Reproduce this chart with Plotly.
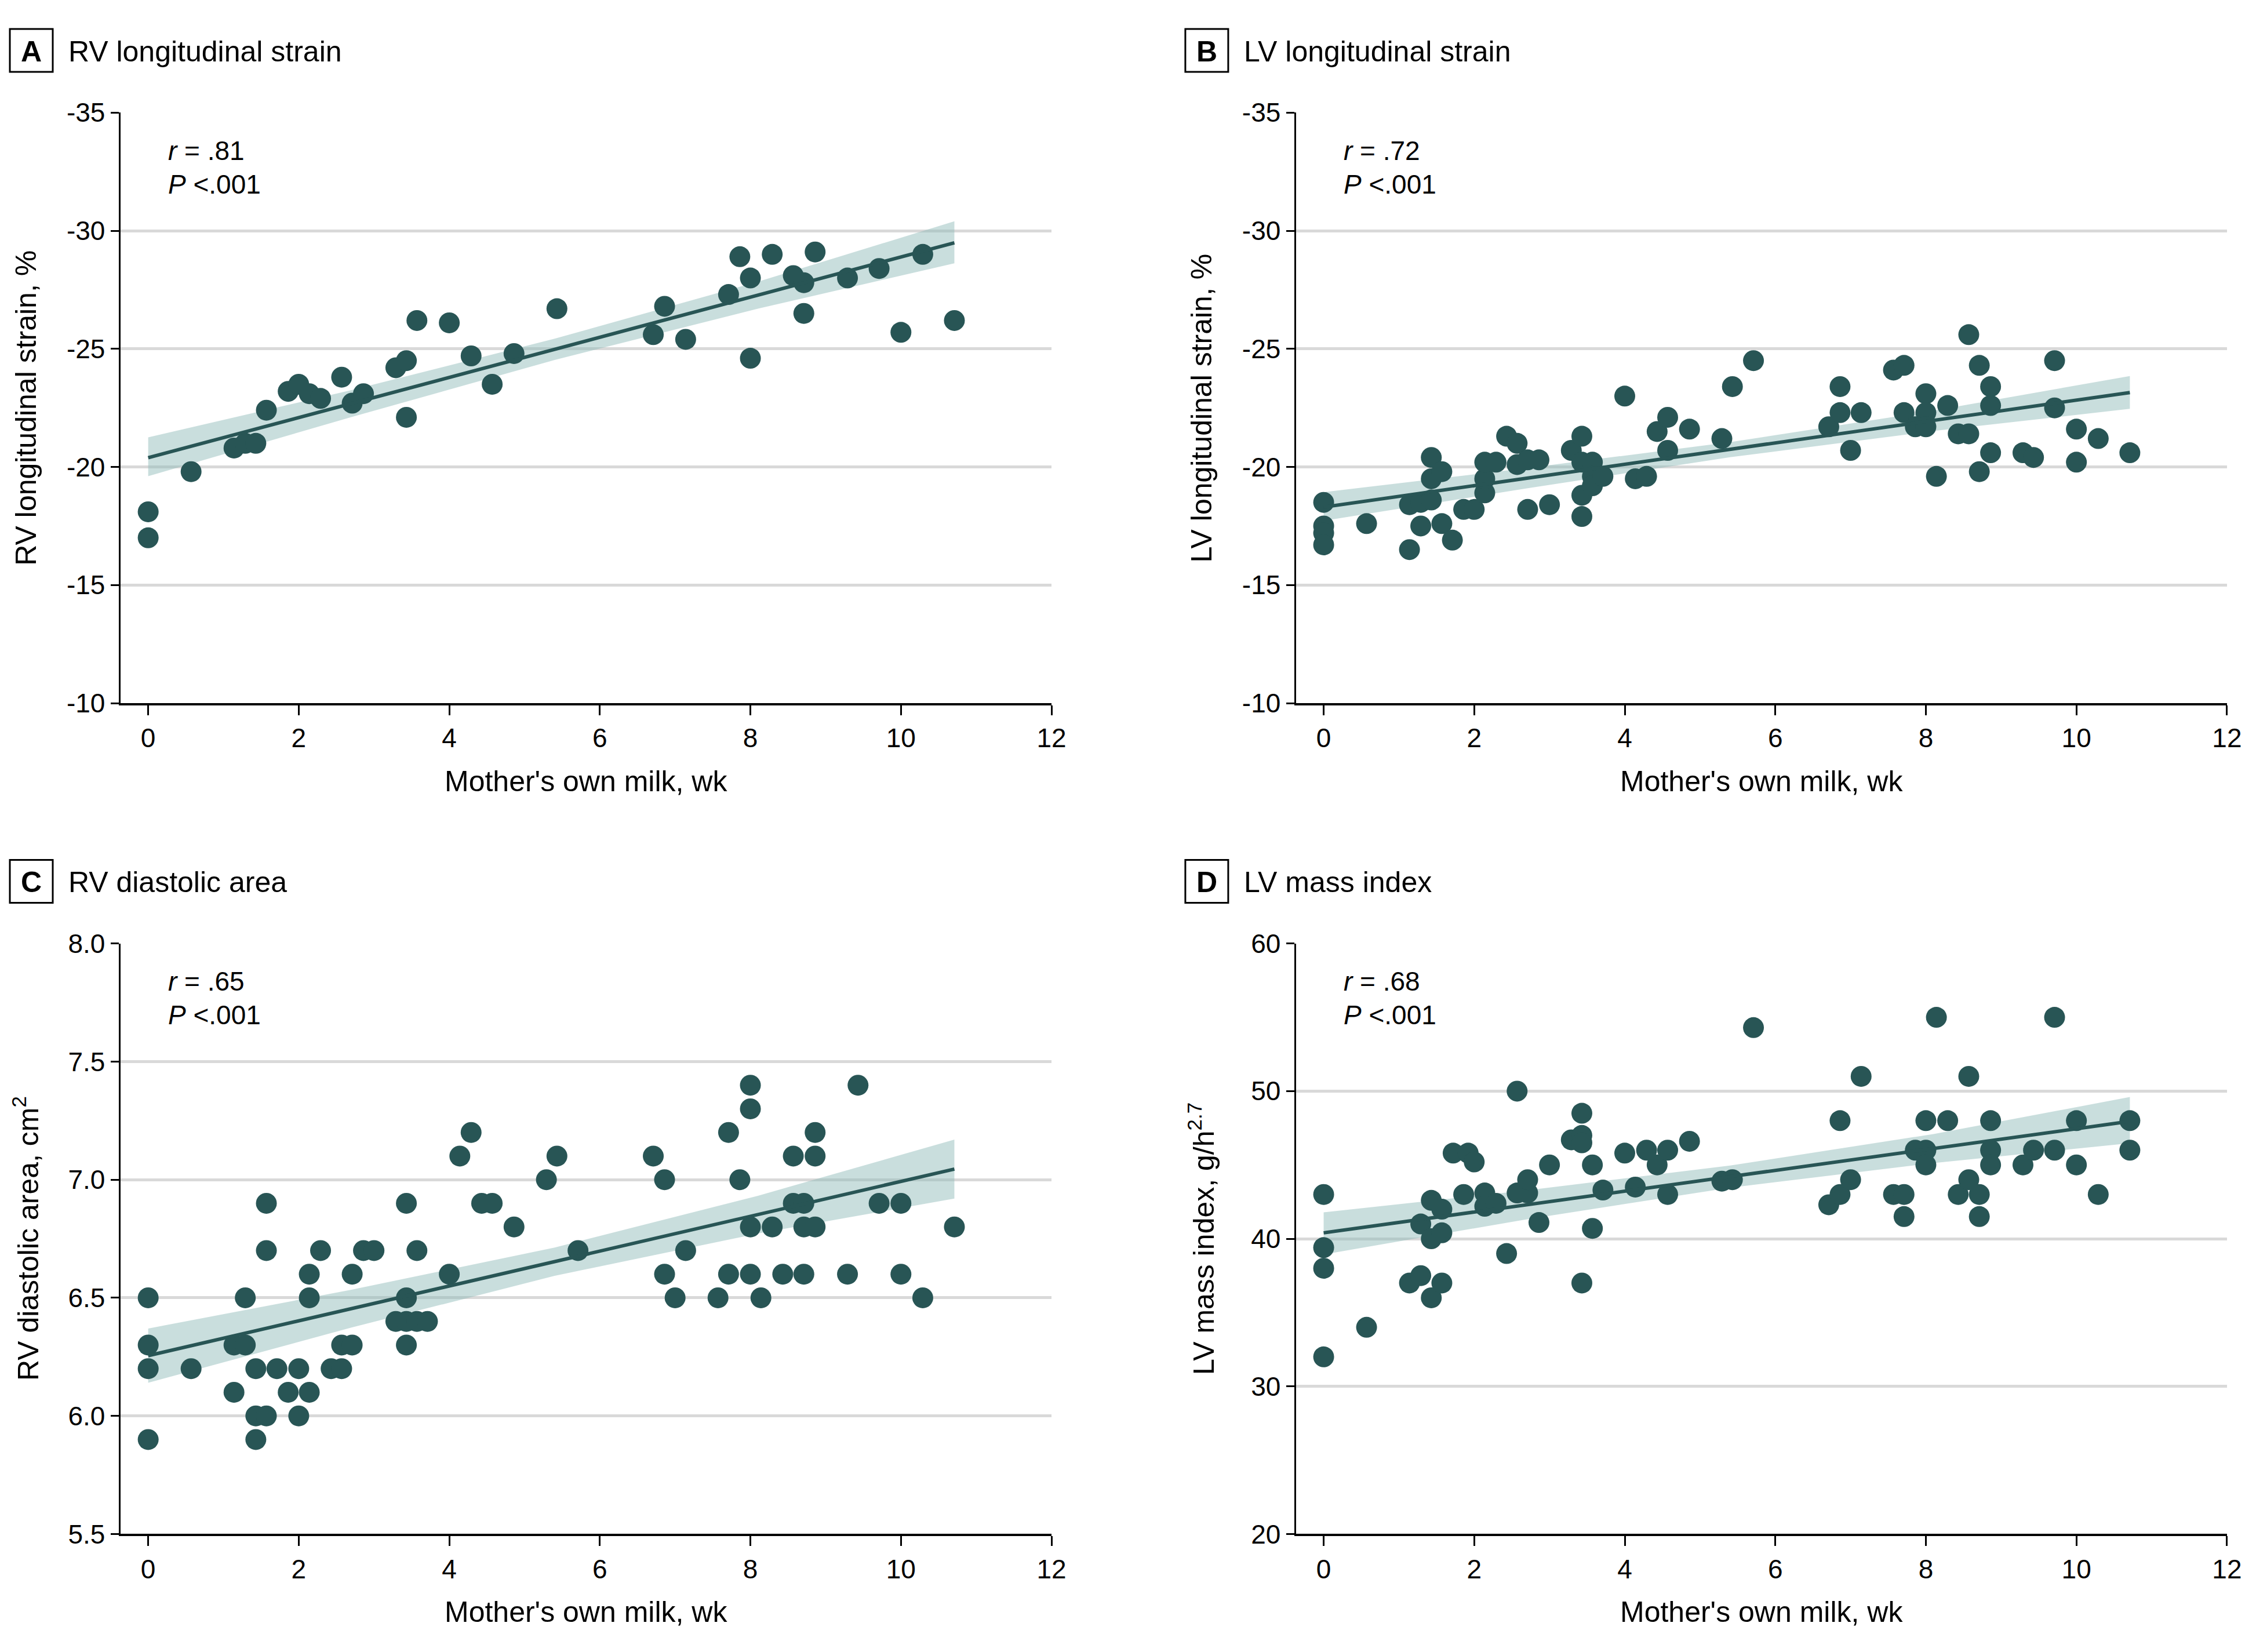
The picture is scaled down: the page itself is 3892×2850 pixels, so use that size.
import plotly.graph_objects as go

# ---------------- data ----------------
x_ticks = [0, 2, 4, 6, 8, 10, 12]
x_ticktext = ["0", "2", "4", "6", "8", "10", "12"]

strain_ticks = [-35, -30, -25, -20, -15, -10]
strain_ticktext = ["-35", "-30", "-25", "-20", "-15", "-10"]
area_ticks = [5.5, 6.0, 6.5, 7.0, 7.5, 8.0]
area_ticktext = ["5.5", "6.0", "6.5", "7.0", "7.5", "8.0"]
mass_ticks = [20, 30, 40, 50, 60]
mass_ticktext = ["20", "30", "40", "50", "60"]

# x positions at which the fitted line and its 95% CI band were read
fit_x = [0, 2.7, 5.4, 8.1, 10.71]

# Panel A: RV longitudinal strain
a_x = [0, 0, 0.57, 1.14, 1.29, 1.43, 1.57, 1.86, 2.0, 2.14,
       2.29, 2.57, 2.71, 2.86, 3.29, 3.43, 3.43, 3.57, 4.0, 4.29,
       4.57, 4.86, 5.43, 6.71, 6.86, 7.14, 7.71, 7.86, 8.0, 8.0,
       8.29, 8.57, 8.71, 8.71, 8.86, 9.29, 9.71, 10.0, 10.29, 10.71]
a_y = [-18.1, -17.0, -19.8, -20.8, -21.0, -21.0, -22.4, -23.2, -23.5, -23.1,
       -22.9, -23.8, -22.7, -23.1, -24.2, -24.5, -22.1, -26.2, -26.1, -24.7,
       -23.5, -24.8, -26.7, -25.6, -26.8, -25.4, -27.3, -28.9, -28.0, -24.6,
       -29.0, -28.1, -27.8, -26.5, -29.1, -28.0, -28.4, -25.7, -29.0, -26.2]
a_fit = [-20.39, -22.68, -24.98, -27.27, -29.49]
a_ci_hi = [-21.25, -23.25, -25.43, -27.84, -30.40]
a_ci_lo = [-19.61, -22.11, -24.53, -26.70, -28.62]

# Panel B: LV longitudinal strain
b_x = [0, 0, 0, 0, 0.57, 1.14, 1.14, 1.29, 1.29, 1.43,
       1.43, 1.43, 1.57, 1.57, 1.71, 1.86, 2.0, 2.14, 2.14, 2.14,
       2.29, 2.43, 2.57, 2.57, 2.71, 2.71, 2.86, 3.0, 3.29, 3.43,
       3.43, 3.43, 3.43, 3.57, 3.57, 3.57, 3.71, 4.0, 4.14, 4.29,
       4.43, 4.57, 4.57, 4.86, 5.29, 5.43, 5.71, 6.71, 6.86, 6.86,
       7.0, 7.14, 7.57, 7.71, 7.71, 7.86, 8.0, 8.0, 8.0, 8.14,
       8.29, 8.43, 8.57, 8.57, 8.71, 8.71, 8.86, 8.86, 8.86, 9.29,
       9.43, 9.71, 9.71, 10.0, 10.0, 10.29, 10.71]
b_y = [-18.5, -17.5, -17.2, -16.7, -17.6, -16.5, -18.4, -18.5, -17.5, -18.6,
       -19.5, -20.4, -19.8, -17.6, -16.9, -18.2, -18.2, -18.9, -19.5, -20.2,
       -20.2, -21.3, -21.0, -20.1, -20.3, -18.2, -20.3, -18.4, -20.7, -21.3,
       -20.2, -18.8, -17.9, -20.2, -19.6, -19.2, -19.6, -23.0, -19.5, -19.6,
       -21.5, -22.1, -20.7, -21.6, -21.2, -23.4, -24.5, -21.7, -22.3, -23.4,
       -20.7, -22.3, -24.1, -24.3, -22.3, -21.7, -23.1, -22.3, -21.7, -19.6,
       -22.6, -21.4, -21.4, -25.6, -24.3, -19.8, -23.4, -22.6, -20.6, -20.6,
       -20.4, -24.5, -22.5, -21.6, -20.2, -21.2, -20.6]
b_fit = [-18.30, -19.52, -20.73, -21.95, -23.15]
b_ci_hi = [-18.93, -19.95, -21.05, -22.38, -23.85]
b_ci_lo = [-17.72, -19.09, -20.41, -21.52, -22.46]

# Panel C: RV diastolic area
c_x = [0, 0, 0, 0, 0.57, 1.14, 1.14, 1.29, 1.29, 1.43,
       1.43, 1.43, 1.57, 1.57, 1.57, 1.71, 1.86, 2.0, 2.0, 2.14,
       2.14, 2.14, 2.29, 2.43, 2.57, 2.57, 2.71, 2.71, 2.86, 3.0,
       3.29, 3.43, 3.43, 3.43, 3.43, 3.57, 3.57, 3.71, 4.0, 4.14,
       4.29, 4.43, 4.57, 4.86, 5.29, 5.43, 5.71, 6.71, 6.86, 6.86,
       7.0, 7.14, 7.57, 7.71, 7.71, 7.86, 8.0, 8.0, 8.0, 8.0,
       8.14, 8.29, 8.43, 8.57, 8.57, 8.71, 8.71, 8.71, 8.86, 8.86,
       8.86, 9.29, 9.43, 9.71, 10.0, 10.0, 10.29, 10.71]
c_y = [6.5, 6.3, 6.2, 5.9, 6.2, 6.1, 6.3, 6.3, 6.5, 6.2,
       6.0, 5.9, 6.0, 6.7, 6.9, 6.2, 6.1, 6.2, 6.0, 6.1,
       6.5, 6.6, 6.7, 6.2, 6.2, 6.3, 6.3, 6.6, 6.7, 6.7,
       6.4, 6.4, 6.5, 6.3, 6.9, 6.7, 6.4, 6.4, 6.6, 7.1,
       7.2, 6.9, 6.9, 6.8, 7.0, 7.1, 6.7, 7.1, 7.0, 6.6,
       6.5, 6.7, 6.5, 6.6, 7.2, 7.0, 7.4, 7.3, 6.8, 6.6,
       6.5, 6.8, 6.6, 7.1, 6.9, 6.9, 6.8, 6.6, 7.2, 7.1,
       6.8, 6.6, 7.4, 6.9, 6.9, 6.6, 6.5, 6.8]
c_fit = [6.255, 6.454, 6.653, 6.852, 7.045]
c_ci_lo = [6.14, 6.374, 6.593, 6.772, 6.92]
c_ci_hi = [6.37, 6.534, 6.713, 6.932, 7.17]

# Panel D: LV mass index
d_x = [0, 0, 0, 0, 0.57, 1.14, 1.29, 1.29, 1.43, 1.43,
       1.43, 1.57, 1.57, 1.57, 1.72, 1.86, 1.92, 2.0, 2.14, 2.14,
       2.29, 2.43, 2.57, 2.57, 2.71, 2.71, 2.86, 3.0, 3.29, 3.43,
       3.43, 3.43, 3.43, 3.57, 3.57, 3.71, 4.0, 4.14, 4.29, 4.43,
       4.57, 4.57, 4.86, 5.29, 5.43, 5.71, 6.71, 6.86, 6.86, 7.0,
       7.14, 7.57, 7.71, 7.71, 7.86, 8.0, 8.0, 8.0, 8.14, 8.29,
       8.43, 8.57, 8.57, 8.71, 8.71, 8.86, 8.86, 8.86, 9.29, 9.43,
       9.71, 9.71, 10.0, 10.0, 10.29, 10.71, 10.71]
d_y = [43.0, 39.4, 38.0, 32.0, 34.0, 37.0, 37.5, 41.0, 36.0, 40.0,
       42.6, 42.0, 40.4, 37.0, 45.8, 43.0, 45.8, 45.2, 43.1, 42.2,
       42.4, 39.0, 50.0, 43.1, 43.1, 44.0, 41.1, 45.0, 46.7, 48.5,
       47.0, 46.5, 37.0, 45.0, 40.7, 43.3, 45.8, 43.5, 46.0, 45.0,
       46.0, 43.0, 46.6, 43.9, 44.0, 54.3, 42.3, 43.0, 48.0, 44.0,
       51.0, 43.0, 41.5, 43.0, 46.0, 48.0, 46.0, 45.0, 55.0, 48.0,
       43.0, 44.0, 51.0, 43.0, 41.5, 48.0, 46.0, 45.0, 45.0, 46.0,
       55.0, 46.0, 48.0, 45.0, 43.0, 48.0, 46.0]
d_fit = [40.40, 42.30, 44.21, 46.11, 47.95]
d_ci_lo = [38.94, 41.32, 43.46, 45.13, 46.47]
d_ci_hi = [41.79, 43.28, 44.96, 47.09, 49.60]

# ---------------- styling ----------------
W, H = 3892, 2850          # browser window
OFF = 8                    # default page (body) margin around the figure
FW, FH = W - 2 * OFF, H - 2 * OFF
FONT = "Liberation Sans, Arial, sans-serif"
MARK = "#285555"
BAND = "rgba(140,185,182,0.47)"
GRID = "#d9d9d9"


def px_x(p):
    """window pixel -> paper fraction"""
    return (p - OFF) / FW


def px_y(p):
    return 1 - (p - OFF) / FH


# panel offsets (px) relative to panel A
DX, DY = 2027.9, 1433.4
A_LEFT, A_RIGHT, A_TOP, A_BOT = 207.6, 1814.0, 194.3, 1213.0

panels = [
    dict(letter="A", title="RV longitudinal strain", ytitle="RV longitudinal strain, %",
         x=a_x, y=a_y, fit=a_fit, lo=a_ci_lo, hi=a_ci_hi, r=".81",
         rng=[-10, -35], tv=strain_ticks, tt=strain_ticktext, col=0, row=0),
    dict(letter="B", title="LV longitudinal strain", ytitle="LV longitudinal strain, %",
         x=b_x, y=b_y, fit=b_fit, lo=b_ci_lo, hi=b_ci_hi, r=".72",
         rng=[-10, -35], tv=strain_ticks, tt=strain_ticktext, col=1, row=0),
    dict(letter="C", title="RV diastolic area", ytitle="RV diastolic area, cm<sup>2</sup>",
         x=c_x, y=c_y, fit=c_fit, lo=c_ci_lo, hi=c_ci_hi, r=".65",
         rng=[5.5, 8.0], tv=area_ticks, tt=area_ticktext, col=0, row=1),
    dict(letter="D", title="LV mass index", ytitle="LV mass index, g/h<sup>2.7</sup>",
         x=d_x, y=d_y, fit=d_fit, lo=d_ci_lo, hi=d_ci_hi, r=".68",
         rng=[20, 60], tv=mass_ticks, tt=mass_ticktext, col=1, row=1),
]

fig = go.Figure()
layout = dict(
    template="none",
    width=FW, height=FH, autosize=False,
    margin=dict(l=0, r=0, t=0, b=0, pad=0, autoexpand=False),
    paper_bgcolor="white", plot_bgcolor="white",
    showlegend=False,
    font=dict(family=FONT, color="black", size=46),
)
annotations = []
shapes = []

for i, p in enumerate(panels, start=1):
    sfx = "" if i == 1 else str(i)
    xa, ya = "x" + sfx, "y" + sfx
    ox = p["col"] * DX
    oy = p["row"] * DY
    left, right = A_LEFT + ox, A_RIGHT + ox
    top, bot = A_TOP + oy, A_BOT + oy

    fig.add_trace(go.Scatter(
        x=fit_x + fit_x[::-1], y=p["hi"] + p["lo"][::-1],
        fill="toself", fillcolor=BAND, line=dict(width=0),
        mode="lines", hoverinfo="skip", xaxis=xa, yaxis=ya))
    fig.add_trace(go.Scatter(
        x=p["x"], y=p["y"], mode="markers",
        marker=dict(size=36, color=MARK, line=dict(width=0)),
        xaxis=xa, yaxis=ya))
    fig.add_trace(go.Scatter(
        x=fit_x, y=p["fit"], mode="lines", line=dict(color=MARK, width=6),
        xaxis=xa, yaxis=ya))

    layout["xaxis" + sfx] = dict(
        domain=[px_x(left), px_x(right)], anchor=ya, automargin=False,
        range=[-0.37, 12], tickvals=x_ticks, ticktext=x_ticktext,
        ticks="outside", ticklen=17, tickwidth=3, tickcolor="black",
        showline=True, linecolor="black", linewidth=4,
        showgrid=False, zeroline=False,
        tickfont=dict(family=FONT, size=46, color="black"))
    layout["yaxis" + sfx] = dict(
        domain=[px_y(bot), px_y(top)], anchor=xa, automargin=False,
        range=p["rng"], tickvals=p["tv"], ticktext=p["tt"],
        ticks="outside", ticklen=14, tickwidth=3, tickcolor="black",
        showline=True, linecolor="black", linewidth=3,
        showgrid=True, gridcolor=GRID, gridwidth=5, zeroline=False,
        tickfont=dict(family=FONT, size=46, color="black"))

    # panel letter box
    bx0, bx1 = 17 + ox, 91 + ox
    by0, by1 = 50 + oy, 124 + oy
    shapes.append(dict(type="rect", xref="paper", yref="paper",
                       x0=px_x(bx0), x1=px_x(bx1), y0=px_y(by1), y1=px_y(by0),
                       line=dict(color="black", width=3), fillcolor="white"))
    annotations.append(dict(text=p["letter"], xref="paper", yref="paper",
                            x=px_x((bx0 + bx1) / 2), y=px_y((by0 + by1) / 2 + 2),
                            xanchor="center", yanchor="middle", showarrow=False,
                            font=dict(family=FONT, size=50, color="black", weight="bold")))
    annotations.append(dict(text=p["title"], xref="paper", yref="paper",
                            x=px_x(116 + ox), y=px_y(89 + oy),
                            xanchor="left", yanchor="middle", showarrow=False,
                            font=dict(family=FONT, size=50, color="black")))
    # statistics
    annotations.append(dict(text="<i>r</i> = %s" % p["r"], xref="paper", yref="paper",
                            x=px_x(288 + ox), y=px_y(260 + oy),
                            xanchor="left", yanchor="middle", showarrow=False,
                            font=dict(family=FONT, size=46, color="black")))
    annotations.append(dict(text="<i>P</i> &lt;.001", xref="paper", yref="paper",
                            x=px_x(288 + ox), y=px_y(318 + oy),
                            xanchor="left", yanchor="middle", showarrow=False,
                            font=dict(family=FONT, size=46, color="black")))
    # axis titles
    annotations.append(dict(text="Mother's own milk, wk", xref="paper", yref="paper",
                            x=px_x((left + right) / 2), y=px_y(bot + 135),
                            xanchor="center", yanchor="middle", showarrow=False,
                            font=dict(family=FONT, size=50, color="black")))
    annotations.append(dict(text=p["ytitle"], xref="paper", yref="paper",
                            x=px_x(45 + ox), y=px_y((top + bot) / 2),
                            xanchor="center", yanchor="middle", textangle=-90,
                            showarrow=False,
                            font=dict(family=FONT, size=50, color="black")))

layout["annotations"] = annotations
layout["shapes"] = shapes
fig.update_layout(**layout)
fig.write_html("out.html")
